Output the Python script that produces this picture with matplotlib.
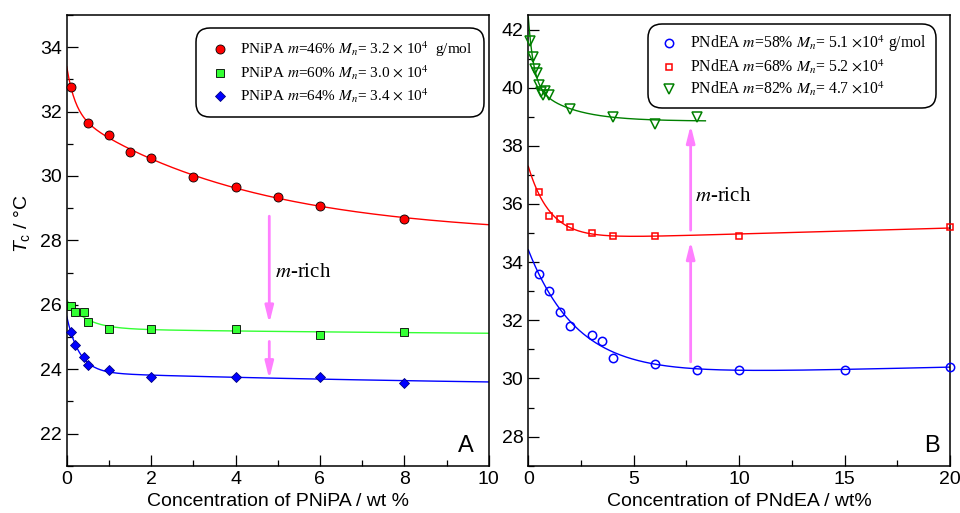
import numpy as np
import matplotlib
matplotlib.use('Agg')
import matplotlib.pyplot as plt
from matplotlib.ticker import MultipleLocator

plt.rcParams['font.family'] = ['Liberation Sans', 'DejaVu Sans']
plt.rcParams['mathtext.fontset'] = 'stix'
plt.rcParams['mathtext.rm'] = 'Liberation Sans'
plt.rcParams['mathtext.it'] = 'Liberation Sans:italic'

# ---------------- data ----------------
nipa46_x = [0.1, 0.5, 1.0, 1.5, 2.0, 3.0, 4.0, 5.0, 6.0, 8.0]
nipa46_y = [32.75, 31.65, 31.26, 30.75, 30.56, 29.96, 29.66, 29.36, 29.07, 28.67]
nipa60_x = [0.1, 0.2, 0.4, 0.5, 1.0, 2.0, 4.0, 6.0, 8.0]
nipa60_y = [25.97, 25.77, 25.77, 25.45, 25.26, 25.26, 25.26, 25.07, 25.16]
nipa64_x = [0.1, 0.2, 0.4, 0.5, 1.0, 2.0, 4.0, 6.0, 8.0]
nipa64_y = [25.15, 24.76, 24.37, 24.14, 23.96, 23.76, 23.76, 23.77, 23.58]

ndea58_x = [0.5, 1.0, 1.5, 2.0, 3.0, 3.5, 4.0, 6.0, 8.0, 10.0, 15.0, 20.0]
ndea58_y = [33.6, 33.0, 32.3, 31.8, 31.5, 31.3, 30.7, 30.5, 30.3, 30.3, 30.3, 30.4]
ndea68_x = [0.5, 1.0, 1.5, 2.0, 3.0, 4.0, 6.0, 10.0, 20.0]
ndea68_y = [36.4, 35.6, 35.5, 35.2, 35.0, 34.9, 34.9, 34.9, 35.2]
ndea82_x = [0.1, 0.2, 0.3, 0.4, 0.5, 0.6, 0.7, 0.8, 1.0, 2.0, 4.0, 6.0, 8.0]
ndea82_y = [41.6, 41.05, 40.65, 40.5, 40.1, 39.85, 39.75, 39.9, 39.75, 39.25, 38.98, 38.75, 39.0]

labels_nipa = [r'PNiPA $m$=46% $M_n$= 3.2 $\times$ 10$^4$  g/mol',
               r'PNiPA $m$=60% $M_n$= 3.0 $\times$ 10$^4$',
               r'PNiPA $m$=64% $M_n$= 3.4 $\times$ 10$^4$']
labels_ndea = [r'PNdEA $m$=58% $M_n$= 5.1 $\times$10$^4$ g/mol',
               r'PNdEA $m$=68% $M_n$= 5.2 $\times$10$^4$',
               r'PNdEA $m$=82% $M_n$= 4.7 $\times$10$^4$']


def _basis(v, taus, linear):
    cols = [np.ones_like(v)] + [np.exp(-v / t) for t in taus]
    if linear:
        cols.append(v)
    return np.column_stack(cols)


def fit_curve(x, y, xs, n_exp=1, linear=False):
    """Least-squares fit: const + sum of exponential decays (+ linear term)."""
    x = np.asarray(x, float)
    y = np.asarray(y, float)
    if n_exp == 1:
        combos = [(t,) for t in np.linspace(0.15, 5, 98)]
    else:
        combos = [(t1, t2) for t1 in np.linspace(0.2, 1.0, 17)
                  for t2 in np.linspace(1.0, 12, 45) if t2 > 1.5 * t1]
    best = None
    for c in combos:
        A = _basis(x, c, linear)
        coef, *_ = np.linalg.lstsq(A, y, rcond=None)
        r = np.sum((A @ coef - y) ** 2)
        if best is None or r < best[0]:
            best = (r, c, coef)
    return _basis(np.asarray(xs, float), best[1], linear) @ best[2]


fig = plt.figure(figsize=(9.6, 5.13), dpi=100)
axA = fig.add_axes([0.0695, 0.0922, 0.4396, 0.8786])
axB = fig.add_axes([0.5503, 0.0922, 0.4393, 0.8786])

for ax in (axA, axB):
    for s in ax.spines.values():
        s.set_linewidth(1.1)
    ax.tick_params(which='both', direction='in', top=False, right=False,
                   labelsize=14, width=0.9, pad=3.5)
    ax.tick_params(which='major', length=8)
    ax.tick_params(which='minor', length=4)

# ---------------- panel A ----------------
xsA = np.linspace(0, 10, 400)
axA.plot(xsA, fit_curve(nipa46_x, nipa46_y, xsA, n_exp=2), color='#ff0000', lw=1.0)
axA.plot(xsA, fit_curve(nipa60_x, nipa60_y, xsA, n_exp=2), color='#33ff33', lw=1.0)
axA.plot(xsA, fit_curve(nipa64_x, nipa64_y, xsA, n_exp=2), color='#0000ff', lw=1.0)

axA.plot(nipa46_x, nipa46_y, ls='none', marker='o', ms=6.5, mfc='#ff0000', mec='black',
         mew=0.6, label=labels_nipa[0], clip_on=False, zorder=5)
axA.plot(nipa60_x, nipa60_y, ls='none', marker='s', ms=5.2, mfc='#33ff33', mec='black',
         mew=0.6, label=labels_nipa[1], clip_on=False, zorder=5)
axA.plot(nipa64_x, nipa64_y, ls='none', marker='D', ms=5.4, mfc='#0000ff', mec='#000080',
         mew=0.6, label=labels_nipa[2], clip_on=False, zorder=5)

axA.set_xlim(0, 10)
axA.set_ylim(21, 35)
axA.xaxis.set_major_locator(MultipleLocator(2))
axA.xaxis.set_minor_locator(MultipleLocator(1))
axA.yaxis.set_major_locator(MultipleLocator(2))
axA.yaxis.set_minor_locator(MultipleLocator(1))
axA.set_yticks([22, 24, 26, 28, 30, 32, 34])
axA.set_xlabel('Concentration of PNiPA / wt %', fontsize=14, labelpad=4)

arrow_kw = dict(arrowstyle='-|>,head_length=1.0,head_width=0.25', color='#ff7fff',
                lw=2.0, mutation_scale=10, shrinkA=0, shrinkB=0)
axA.annotate('', xy=(4.8, 25.42), xytext=(4.8, 28.75), arrowprops=arrow_kw)
axA.annotate('', xy=(4.8, 23.69), xytext=(4.8, 24.86), arrowprops=arrow_kw)
axA.text(4.94, 27.0, r'$m$-rich', fontsize=15, family=['Liberation Serif', 'DejaVu Serif'],
         ha='left', va='center')
axA.text(9.46, 21.42, 'A', fontsize=17, ha='center', va='baseline')

legA = axA.legend(loc='upper right', bbox_to_anchor=(0.989, 0.971), borderaxespad=0,
                  prop={'family': ['Liberation Serif', 'DejaVu Serif'], 'size': 11},
                  handlelength=1.6, handletextpad=0.55, borderpad=0.75, labelspacing=0.28,
                  frameon=True, fancybox=True, framealpha=1, edgecolor='black')
legA.get_frame().set_linewidth(1.1)
legA.get_frame().set_boxstyle('round,pad=0,rounding_size=0.9')

# ---------------- panel B ----------------
xsB = np.linspace(0, 20, 600)
xsG = np.linspace(0, 8.4, 300)
axB.plot(xsB, fit_curve(ndea58_x, ndea58_y, xsB, n_exp=1, linear=True), color='#0000ff', lw=1.0)
axB.plot(xsB, fit_curve(ndea68_x, ndea68_y, xsB, n_exp=1, linear=True), color='#ff0000', lw=1.0)
axB.plot(xsG, fit_curve(ndea82_x, ndea82_y, xsG, n_exp=2), color='#008000', lw=1.0)

axB.plot(ndea58_x, ndea58_y, ls='none', marker='o', ms=6.0, mfc='none', mec='#0000ff',
         mew=1.1, label=labels_ndea[0], clip_on=False, zorder=5)
axB.plot(ndea68_x, ndea68_y, ls='none', marker='s', ms=5.0, mfc='none', mec='#ff0000',
         mew=1.1, label=labels_ndea[1], clip_on=False, zorder=5)
axB.plot(ndea82_x, ndea82_y, ls='none', marker='v', ms=6.5, mfc='none', mec='#008000',
         mew=1.1, label=labels_ndea[2], clip_on=False, zorder=5)

axB.set_xlim(0, 20)
axB.set_ylim(27, 42.5)
axB.xaxis.set_major_locator(MultipleLocator(5))
axB.xaxis.set_minor_locator(MultipleLocator(2.5))
axB.yaxis.set_major_locator(MultipleLocator(2))
axB.yaxis.set_minor_locator(MultipleLocator(1))
axB.set_xlabel('Concentration of PNdEA / wt%', fontsize=14, labelpad=4)

axB.annotate('', xy=(7.7, 38.71), xytext=(7.7, 35.1), arrowprops=arrow_kw)
axB.annotate('', xy=(7.7, 34.72), xytext=(7.7, 30.57), arrowprops=arrow_kw)
axB.text(7.91, 36.25, r'$m$-rich', fontsize=15, family=['Liberation Serif', 'DejaVu Serif'],
         ha='left', va='center')
axB.text(19.14, 27.47, 'B', fontsize=17, ha='center', va='baseline')

legB = axB.legend(loc='upper right', bbox_to_anchor=(0.967, 0.980), borderaxespad=0,
                  prop={'family': ['Liberation Serif', 'DejaVu Serif'], 'size': 11.3},
                  handlelength=1.5, handletextpad=0.6, borderpad=0.6, labelspacing=0.22,
                  frameon=True, fancybox=True, framealpha=1, edgecolor='black')
legB.get_frame().set_linewidth(1.1)
legB.get_frame().set_boxstyle('round,pad=0,rounding_size=0.9')

# y label
fig.text(22 / 960, 1 - 224 / 513, r'$T_\mathrm{c}$ / °C', rotation=90, fontsize=14,
         ha='center', va='center', math_fontfamily='custom')

fig.savefig('out.png', dpi=100)
